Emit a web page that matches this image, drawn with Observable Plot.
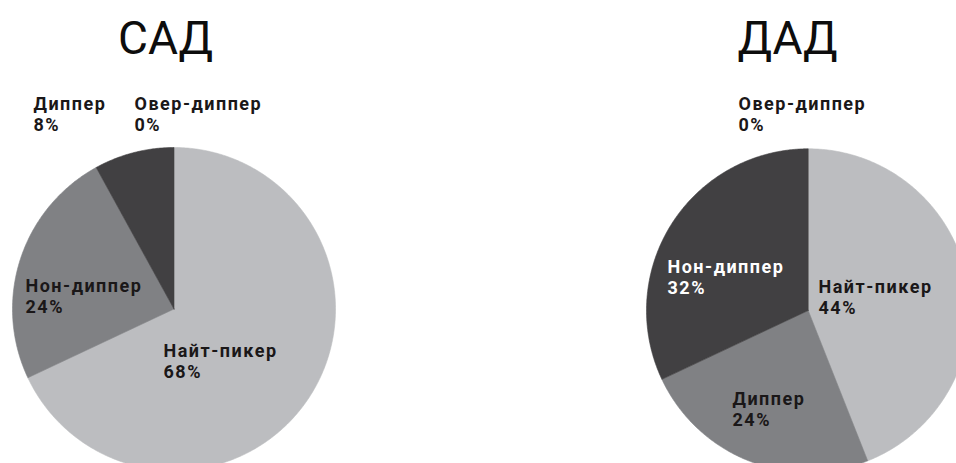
<!DOCTYPE html>
<html>
<head>
<meta charset="utf-8">
<script src="https://cdn.jsdelivr.net/npm/d3@7"></script>
<script src="https://cdn.jsdelivr.net/npm/@observablehq/plot@0.6"></script>
<style>
  html, body { margin: 0; padding: 0; background: #fff; overflow: hidden; }
  #chart svg { display: block; overflow: hidden; }
</style>
</head>
<body>
<div id="chart"></div>
<script>
// ---- data ----
const titles = ["САД", "ДАД"];
const sadCategories = ["Найт-пикер", "Нон-диппер", "Диппер", "Овер-диппер"];
const sadValues = [68, 24, 8, 0];
const dadCategories = ["Найт-пикер", "Диппер", "Нон-диппер", "Овер-диппер"];
const dadValues = [44, 24, 32, 0];

// ---- layout & style ----
const W = 956, H = 463;
const sliceColors = ["#bcbdc0", "#808184", "#414042", "#231f20"];
const pies = [
  {cx: 173.5, cy: 308.5, r: 161.5, titleX: 165, titleY: 53,
   labelPos: {"Найт-пикер": [163, 377], "Нон-диппер": [25, 312], "Диппер": [33, 130], "Овер-диппер": [134, 130]},
   labelFill: {}},
  {cx: 807.7, cy: 310, r: 161.7, titleX: 787, titleY: 53,
   labelPos: {"Найт-пикер": [818, 313], "Нон-диппер": [667, 293], "Диппер": [732, 425], "Овер-диппер": [738, 130]},
   labelFill: {"Нон-диппер": "#ffffff"}}
];
const series = [
  {categories: sadCategories, values: sadValues},
  {categories: dadCategories, values: dadValues}
];

// ---- build slice polygons via d3.pie ----
const polys = [];
const labels = [];
const titleRows = [];
series.forEach((s, pi) => {
  const P = pies[pi];
  const rows = s.categories.map((c, i) => ({category: c, value: s.values[i], color: sliceColors[i]}));
  const arcs = d3.pie().sort(null).value(d => d.value)(rows);
  arcs.forEach((a, i) => {
    const id = pi + "-" + i;
    if (a.endAngle - a.startAngle > 0) {
      const n = Math.max(2, Math.ceil((a.endAngle - a.startAngle) / (Math.PI / 360)));
      polys.push({id, color: a.data.color, x: P.cx, y: P.cy});
      for (let k = 0; k <= n; k++) {
        const t = a.startAngle + (a.endAngle - a.startAngle) * k / n;
        polys.push({id, color: a.data.color, x: P.cx + P.r * Math.sin(t), y: P.cy - P.r * Math.cos(t)});
      }
      polys.push({id, color: a.data.color, x: P.cx, y: P.cy});
    }
    const pos = P.labelPos[a.data.category];
    labels.push({
      x: pos[0], y: pos[1],
      text: a.data.category + "\n" + a.data.value + "%",
      fill: P.labelFill[a.data.category] || "#1a1718"
    });
  });
  titleRows.push({x: P.titleX, y: P.titleY, text: titles[pi]});
});

const chart = Plot.plot({
  width: W,
  height: H,
  margin: 0,
  x: {domain: [0, W], range: [0, W], axis: null},
  y: {domain: [0, H], range: [0, H], axis: null},
  color: {type: "identity"},
  marks: [
    Plot.line(polys, {x: "x", y: "y", z: "id", fill: "color", stroke: "color", strokeWidth: 0.6, curve: "linear"}),
    Plot.text(titleRows, {x: "x", y: "y", text: "text", fontSize: 46, fontFamily: "Roboto", fontWeight: 400,
      fill: "#0d0d0d", textAnchor: "middle", lineAnchor: "bottom"}),
    Plot.text(labels, {x: "x", y: "y", text: "text", fill: "fill", fontSize: 18, fontFamily: "Roboto",
      fontWeight: 700, textAnchor: "start", lineAnchor: "bottom", lineHeight: 21 / 18, className: "labels"})
  ]
});
chart.querySelectorAll("g[class*='labels']").forEach(g => g.style.letterSpacing = "1.5px");
document.getElementById("chart").appendChild(chart);
</script>
</body>
</html>
